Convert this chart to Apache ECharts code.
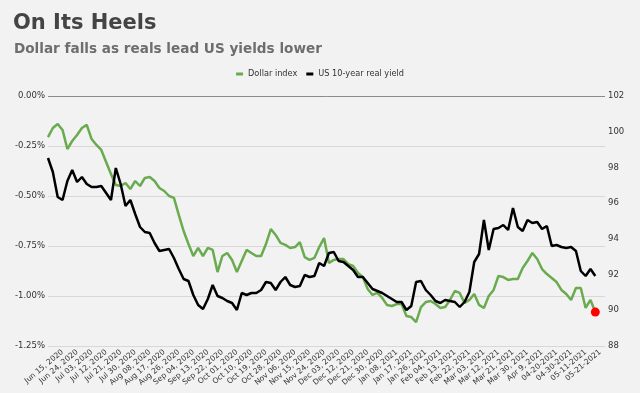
<!DOCTYPE html>
<html>
<head>
<meta charset="utf-8">
<script src="https://cdn.jsdelivr.net/npm/echarts@6/dist/echarts.min.js"></script>
<style>
html,body{margin:0;padding:0;background:#f2f2f2;}
#chart{width:640px;height:393px;}
</style>
</head>
<body>
<div id="chart"></div>
<script>
// Tick labels shown on the x axis (one every 3 data slots)
const tickLabels = ['Jun 15, 2020','Jun 24, 2020','Jul 03, 2020','Jul 12, 2020','Jul 21, 2020','Jul 30, 2020','Aug 08, 2020','Aug 17, 2020','Aug 26, 2020','Sep 04, 2020','Sep 13, 2020','Sep 22, 2020','Oct 01, 2020','Oct 10, 2020','Oct 19, 2020','Oct 28, 2020','Nov 06, 2020','Nov 15, 2020','Nov 24, 2020','Dec 03, 2020','Dec 12, 2020','Dec 21, 2020','Dec 30, 2020','Jan 08, 2021','Jan 17, 2021','Jan 26, 2021','Feb 04, 2021','Feb 13, 2021','Feb 22, 2021','Mar 03, 2021','Mar 12, 2021','Mar 21, 2021','Mar 30, 2021','Apr 9, 2021','04-20-2021','04-30-2021','05-11-2021','05-21-2021'];

// US 10-year real yield (%), left axis
const realYield = [
-0.31,-0.38,-0.505,-0.52,-0.425,-0.37,-0.43,-0.405,-0.44,-0.455,
-0.455,-0.45,-0.485,-0.52,-0.36,-0.44,-0.55,-0.52,-0.59,-0.655,
-0.68,-0.685,-0.735,-0.775,-0.77,-0.765,-0.81,-0.865,-0.915,-0.925,
-0.995,-1.045,-1.065,-1.015,-0.945,-1.0,-1.01,-1.025,-1.035,-1.07,
-0.985,-0.995,-0.985,-0.985,-0.97,-0.93,-0.935,-0.97,-0.93,-0.905,
-0.945,-0.955,-0.95,-0.895,-0.905,-0.90,-0.835,-0.85,-0.785,-0.78,
-0.825,-0.83,-0.85,-0.87,-0.905,-0.905,-0.935,-0.965,-0.975,-0.985,
-1.0,-1.015,-1.03,-1.03,-1.07,-1.05,-0.93,-0.925,-0.97,-0.995,
-1.025,-1.035,-1.02,-1.025,-1.03,-1.055,-1.03,-0.98,-0.83,-0.79,
-0.62,-0.77,-0.665,-0.66,-0.645,-0.67,-0.56,-0.655,-0.675,-0.62,
-0.635,-0.63,-0.665,-0.65,-0.75,-0.745,-0.755,-0.76,-0.755,-0.775,
-0.875,-0.90,-0.865,-0.90];

// Dollar index, right axis
const dollarIndex = [
99.70,100.21,100.43,100.10,99.03,99.48,99.82,100.21,100.38,99.59,
99.26,98.98,98.30,97.63,97.02,96.96,97.13,96.79,97.24,96.96,
97.41,97.46,97.24,96.85,96.68,96.40,96.29,95.34,94.44,93.71,
93.04,93.49,93.04,93.49,93.38,92.14,93.04,93.21,92.82,92.14,
92.76,93.38,93.21,93.04,93.04,93.71,94.55,94.22,93.77,93.66,
93.49,93.54,93.82,92.98,92.82,92.93,93.54,94.05,92.65,92.82,
92.87,92.87,92.59,92.48,92.09,91.86,91.19,90.86,90.97,90.69,
90.30,90.24,90.35,90.35,89.68,89.62,89.34,90.18,90.46,90.52,
90.35,90.13,90.18,90.58,91.08,90.97,90.41,90.58,90.91,90.30,
90.13,90.80,91.14,91.92,91.86,91.70,91.75,91.75,92.37,92.76,
93.21,92.87,92.31,92.03,91.81,91.58,91.14,90.91,90.58,91.25,
91.25,90.13,90.58,89.90];

const leftTicks = {min: -1.25, max: 0, step: 0.25};
const rightTicks = {min: 88, max: 102, step: 2};

// Build category slots: label every 3rd slot starting at slot 3
const STEP = 3;
const slotCount = STEP * tickLabels.length + 2;
const categories = [];
for (let i = 0; i < slotCount; i++) categories.push('s' + i);
function labelFor(i) {
  if (i % STEP !== 0) return '';
  const k = i / STEP - 1;
  return (k >= 0 && k < tickLabels.length) ? tickLabels[k] : '';
}

const FONT = 'DejaVu Sans';
const chart = echarts.init(document.getElementById('chart'), null, {renderer: 'canvas'});
const lastIdx = dollarIndex.length - 1;
chart.setOption({
  backgroundColor: '#f2f2f2',
  animation: false,
  title: [
    {text: 'On Its Heels', left: 13, top: 13, padding: 0,
     textStyle: {fontFamily: FONT, fontWeight: 'bold', fontSize: 21, color: '#444444'}},
    {text: 'Dollar falls as reals lead US yields lower', left: 14, top: 42, padding: 0,
     textStyle: {fontFamily: FONT, fontWeight: 'bold', fontSize: 13.6, color: '#6e6e6e'}}
  ],
  legend: {
    top: 70, left: 'center', padding: 0, itemGap: 9,
    itemWidth: 7, itemHeight: 3, icon: 'rect',
    textStyle: {fontFamily: FONT, fontSize: 8.2, color: '#333'},
    data: ['Dollar index', 'US 10-year real yield']
  },
  grid: {left: 48, right: 35, top: 96, bottom: 47, containLabel: false, outerBoundsMode: 'none'},
  xAxis: {
    type: 'category', data: categories, boundaryGap: false,
    axisLine: {show: false}, axisTick: {show: false},
    splitLine: {show: false},
    axisLabel: {
      interval: function (i) { return labelFor(i) !== ''; },
      formatter: function (v, i) { return labelFor(i); },
      rotate: 40, margin: 5, fontFamily: FONT, fontSize: 7.6, color: '#333'
    }
  },
  yAxis: [
    {type: 'value', min: leftTicks.min, max: leftTicks.max, interval: leftTicks.step, position: 'left',
     axisLine: {show: false}, axisTick: {show: false},
     axisLabel: {margin: 3, fontFamily: FONT, fontSize: 8.5, color: '#333',
       formatter: function (v) { return v.toFixed(2) + '%'; }},
     splitLine: {show: true, lineStyle: {width: 1, color: ['#d8d8d8','#d8d8d8','#d8d8d8','#d8d8d8','#d8d8d8','#8a8a8a']}}},
    {type: 'value', min: rightTicks.min, max: rightTicks.max, interval: rightTicks.step, position: 'right',
     axisLine: {show: false}, axisTick: {show: false}, splitLine: {show: false},
     axisLabel: {margin: 3, fontFamily: FONT, fontSize: 8.5, color: '#333'}}
  ],
  series: [
    {name: 'Dollar index', type: 'line', yAxisIndex: 1, data: dollarIndex,
     showSymbol: false, symbol: 'none', lineStyle: {color: '#6aab4f', width: 2.5}, itemStyle: {color: '#6aab4f'},
     markPoint: {symbol: 'circle', symbolSize: 9, label: {show: false},
       itemStyle: {color: '#ff0000'},
       data: [{coord: [lastIdx, dollarIndex[lastIdx]]}]}},
    {name: 'US 10-year real yield', type: 'line', yAxisIndex: 0, data: realYield,
     showSymbol: false, symbol: 'none', lineStyle: {color: '#000000', width: 2.5}, itemStyle: {color: '#000000'}}
  ]
});
</script>
</body>
</html>
